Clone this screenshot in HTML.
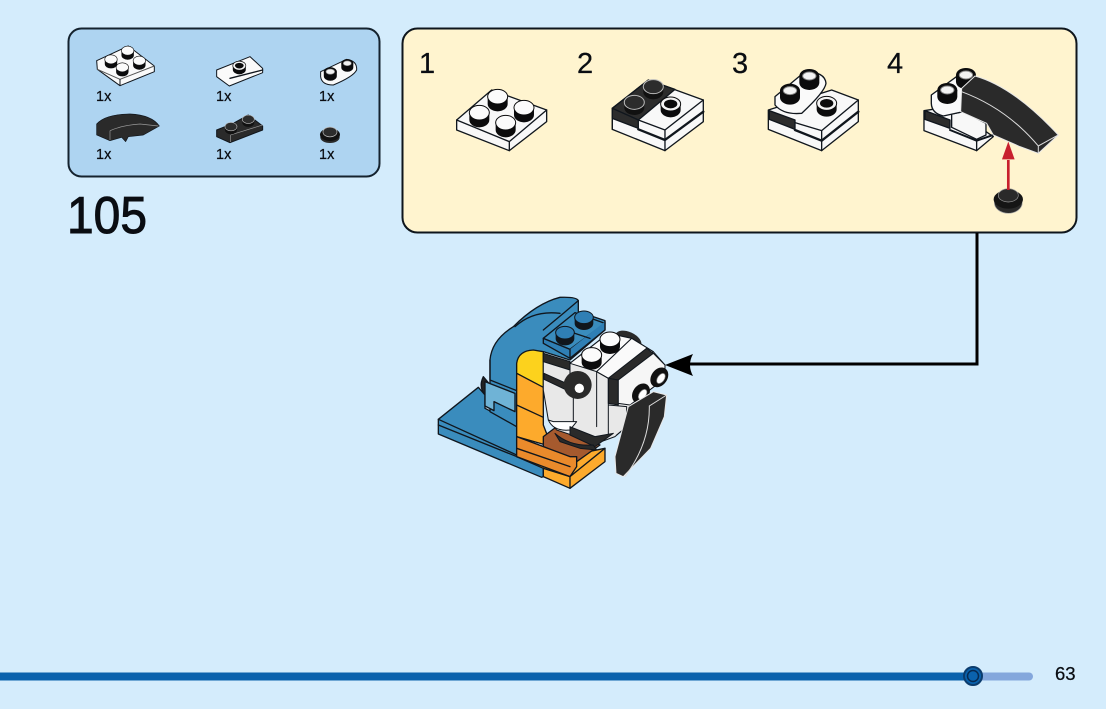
<!DOCTYPE html>
<html><head><meta charset="utf-8"><style>
html,body{margin:0;padding:0;background:#d4ecfc}
svg{display:block}
text{font-family:"Liberation Sans",sans-serif;fill:#0a0d12;stroke:#0a0d12;stroke-width:.25px}
.o{stroke:#10161d;stroke-linejoin:round;stroke-linecap:round}
</style></head><body>
<svg width="1106" height="709" viewBox="0 0 1106 709" xmlns="http://www.w3.org/2000/svg">
<defs>
<g id="st"><path d="M-30 0V22A30 22 0 0 0 30 22V0Z" fill="#0b0b0c"/><ellipse rx="30" ry="22" fill="#fbfbfb" stroke="#0b0b0c" stroke-width="3"/></g>
<g id="sh"><path d="M-30 0V18A30 22 0 0 0 30 18V0Z" fill="#0b0b0c"/><ellipse rx="30" ry="21" fill="#f4f4f4" stroke="#0b0b0c" stroke-width="3"/><ellipse rx="20" ry="13" fill="#0b0b0c"/></g>
<g id="sr"><path d="M-30 0V20A30 22 0 0 0 30 20V0Z" fill="#0b0b0c"/><ellipse rx="30" ry="21" fill="#0b0b0c"/><ellipse rx="20" ry="12" fill="#f2f2f2" stroke="#888" stroke-width="3"/></g>
<g id="sd"><path d="M-30 0V16A30 22 0 0 0 30 16V0Z" fill="#111"/><ellipse rx="30" ry="21" fill="#2c2c2c" stroke="#bbb" stroke-width="3"/></g>
<g id="sb"><path d="M-28 0V18A28 20 0 0 0 28 18V0Z" fill="#10161d"/><ellipse rx="28" ry="19" fill="#2f7fb5" stroke="#10161d" stroke-width="3"/></g>
</defs>
<rect width="1106" height="709" fill="#d4ecfc"/>

<!-- parts panel -->
<rect x="68.500" y="28.500" width="311" height="148" rx="13" fill="#aed4f1" stroke="#14222e" stroke-width="2"/>
<g transform="translate(60,20) scale(.3333)">
  <g class="o" stroke-width="3">
    <path d="M110 122L205 78L283 138V155L180 197L112 148Z" fill="#fafafa"/>
    <path d="M112 148L180 178L283 138" fill="none" stroke="#555"/>
    <path d="M180 178V197" fill="none"/>
    <path d="M470 150L570 110L608 145V158L508 198L470 170Z" fill="#fafafa"/>
    <path d="M510 175L608 150" fill="none" stroke-width="4"/>
    <path d="M782 155L860 118Q892 122 890 150Q880 170 820 195Q785 195 782 170Z" fill="#fafafa"/>
    <path d="M110 312Q135 283 210 282Q275 285 298 318L250 345L205 350L197 365L185 352L150 362L110 345Z" fill="#2a2a2a" stroke-width="2"/>
    <path d="M470 330L520 310L565 285L608 318V330L510 368L470 350Z" fill="#2a2a2a"/>
  </g>
  <path d="M150 332Q190 315 240 312L295 318M150 332V360" fill="none" stroke="#999" stroke-width="2"/>
  <path d="M512 345L608 315M512 345V366" fill="none" stroke="#999" stroke-width="2"/>
  <g transform="translate(153,118) scale(.62)"><use href="#st"/></g>
  <g transform="translate(203,92) scale(.62)"><use href="#st"/></g>
  <g transform="translate(238,122) scale(.62)"><use href="#st"/></g>
  <g transform="translate(187,142) scale(.62)"><use href="#st"/></g>
  <g transform="translate(538,137) scale(.65)"><use href="#sh"/></g>
  <g transform="translate(811,155) scale(.65)"><use href="#sr"/></g>
  <g transform="translate(862,130) scale(.6)"><use href="#sr"/></g>
  <g transform="translate(513,320) scale(.6)"><use href="#sd"/></g>
  <g transform="translate(565,298) scale(.6)"><use href="#sd"/></g>
  <ellipse cx="810" cy="352" rx="29" ry="17" fill="#2a2a2a"/>
  <ellipse cx="810" cy="344" rx="30" ry="19" fill="#111"/>
  <g transform="translate(810,336) scale(.7)"><use href="#sd"/></g>
</g>
<g font-size="14.500">
<text x="96" y="101">1x</text><text x="216" y="101">1x</text><text x="319" y="101">1x</text>
<text x="96" y="159">1x</text><text x="216" y="159">1x</text><text x="319" y="159">1x</text>
</g>
<text x="67" y="233" font-size="52" textLength="80" lengthAdjust="spacingAndGlyphs" style="stroke-width:1px">105</text>

<!-- steps panel -->
<rect x="402.500" y="28.500" width="674" height="204" rx="15" fill="#fff4cf" stroke="#0e151c" stroke-width="2"/>
<g font-size="29" style="stroke-width:.6px">
<text x="419" y="73">1</text><text x="577" y="73">2</text><text x="732" y="73">3</text><text x="887" y="73">4</text>
</g>

<!-- steps 1 & 2 -->
<g transform="translate(410,40) scale(.3333)">
  <g class="o" stroke-width="4">
    <path d="M140 240L245 150L410 210V245L298 332L140 270Z" fill="#f8f8f8"/>
    <path d="M140 240L298 305L410 210M298 305V332" fill="none"/>
  </g>
  <use href="#st" x="208" y="218"/><use href="#st" x="263" y="170"/><use href="#st" x="342" y="203"/><use href="#st" x="287" y="248"/>
  <g class="o" stroke-width="4">
    <path d="M607 205L715 120L880 180V245L765 332L607 268Z" fill="#f8f8f8"/>
    <path d="M607 205L715 120L795 148L685 240Z" fill="#2c2c2c"/>
    <path d="M607 205L685 240V265L607 235Z" fill="#2c2c2c"/>
    <path d="M685 240L765 270L880 180M765 270V332M607 240V268" fill="none"/>
    <path d="M685 268L765 300L880 215" fill="none" stroke-width="7"/>
  </g>
  <use href="#sd" x="673" y="187"/><use href="#sd" x="730" y="140"/><use href="#sh" x="782" y="192"/>
</g>

<!-- steps 3 & 4 -->
<g transform="translate(730,40) scale(.3333)">
  <g class="o" stroke-width="4">
    <path d="M115 210L305 150L385 180V245L275 332L115 268Z" fill="#f8f8f8"/>
    <path d="M195 248L275 272L385 180M275 272V332" fill="none"/>
    <path d="M118 212L195 240V268L118 238Z" fill="#2c2c2c"/>
    <path d="M195 270L275 302L385 215" fill="none" stroke-width="7"/>
    <path d="M135 170L225 95Q285 95 288 130Q285 155 215 220Q160 225 135 195Z" fill="#fafafa"/>
  </g>
  <use href="#sr" x="180" y="152"/><use href="#sr" x="238" y="108"/><use href="#sh" x="290" y="190"/>

  <g class="o" stroke-width="4">
    <path d="M582 212L660 200L790 290L740 332L582 272Z" fill="#f8f8f8"/>
    <path d="M585 212L660 240V265L585 238Z" fill="#2c2c2c"/>
    <path d="M660 270L740 302L790 285" fill="none" stroke-width="6"/>
    <path d="M740 300V332" fill="none"/>
    <path d="M665 222L700 215L768 250V285L740 298L665 262Z" fill="#f8f8f8"/>
    <path d="M604 165L700 95L740 115L700 215L640 228Q605 220 604 190Z" fill="#fafafa"/>
  </g>
  <use href="#sr" x="652" y="150"/><use href="#sr" x="708" y="105"/>
  <path d="M695 145L735 108Q850 140 985 285L925 340L870 320L790 285L770 250L692 215Z" fill="#2a2a2a" stroke="#e8e8e8" stroke-width="3" stroke-linejoin="round"/>
  <path d="M695 155Q830 205 925 318L985 285M925 318V340" fill="none" stroke="#ddd" stroke-width="3"/>
  <ellipse cx="835" cy="488" rx="42" ry="32" fill="#2a2a2a" stroke="#aaa" stroke-width="2"/>
  <ellipse cx="835" cy="478" rx="44" ry="28" fill="#151515"/>
  <ellipse cx="835" cy="466" rx="30" ry="20" fill="#2a2a2a" stroke="#999" stroke-width="2"/>
  <path d="M835 450V360" stroke="#c8202e" stroke-width="8"/>
  <path d="M835 305L854 358H816Z" fill="#c8202e"/>
</g>

<!-- connector -->
<path d="M977 233V364H682" fill="none" stroke="#000" stroke-width="3"/>
<path d="M665 365L693 354Q687 365 693 376Z" fill="#000"/>

<!-- main model -->
<g transform="translate(420,280) scale(.3333)">
  <g class="o" stroke-width="4">
    <path d="M190 290Q175 320 195 345L215 320Z" fill="#222"/>
    <path d="M55 418L175 322L195 345V385L290 435V530L370 560V590L365 592L55 462Z" fill="#3a8cbd"/>
    <path d="M55 435L365 560" fill="none" stroke-width="4"/>
    <path d="M55 418L290 525" fill="none"/>
    <path d="M210 240Q215 180 280 140Q350 70 420 52Q470 50 475 62V95L555 122V150L450 240L370 215L290 250V440L210 395Z" fill="#3a8cbd"/>
    <path d="M210 240V300L290 332" fill="none"/>
    <path d="M285 140Q340 90 420 100M430 100L475 62M370 150L430 100" fill="none"/>
    <path d="M195 305L285 340V395L222 365V392L195 378Z" fill="#6fb3d6"/>
    <path d="M370 175L465 98L555 130L450 208Z" fill="#3a8cbd"/>
    <path d="M370 175V190L450 235V208ZM450 208V235L555 150V125" fill="#2f7fb5"/>
    <path d="M420 145L510 175" fill="none"/>
    <path d="M290 280V250Q295 212 340 210L370 215V325Z" fill="#fcd21d"/>
    <path d="M290 280L370 322V435L395 500L290 470Z" fill="#fdaa2c"/>
    <path d="M290 375L370 412" fill="none"/>
    <path d="M290 470L370 500L450 545L480 520L555 505V545L450 625L370 590V565L290 530Z" fill="#fdaa2c"/>
    <path d="M370 470L410 440L540 495L470 545L370 500Z" fill="#a65a2e"/>
    <path d="M290 470L450 530L470 530V560L450 590L290 530Z" fill="#ea8a2b"/>
    <path d="M290 505L450 560" fill="none"/>
    <path d="M450 590L555 505M450 590V625M370 565L450 590" fill="none"/>
  </g>
  <use href="#sb" x="435" y="158"/><use href="#sb" x="492" y="112"/>
  <!-- head -->
  <ellipse cx="625" cy="180" rx="42" ry="24" fill="#2a2a2a" transform="rotate(25 625 180)"/>
  <g class="o" stroke-width="3">
    <path d="M370 220L450 250L565 160L635 175L700 215L735 255V295L630 375L620 440L585 470L530 490L410 450L385 420L370 330Z" fill="#e8e8e8"/>
    <path d="M450 250L565 160L635 175L530 275Z" fill="#fafafa"/>
    <path d="M530 275L635 175L700 215L565 295Z" fill="#fafafa"/>
    <path d="M370 220L450 245V270L370 245Z" fill="#2a2a2a"/>
    <path d="M372 280L450 315V335L372 298Z" fill="#2a2a2a"/>
    <path d="M565 295L680 205L702 222L595 300Z" fill="#2a2a2a"/>
    <path d="M565 295L595 300V375L565 370Z" fill="#2a2a2a"/>
    <path d="M595 300L700 220L735 255V295L630 375L595 370Z" fill="#f6f6f6"/>
    <path d="M450 250V320M530 275V440M565 295V470M460 345V430M565 375L620 380V440L590 465M530 275L565 295" fill="none"/>
    <path d="M385 420Q400 455 450 450L470 425L400 425Z" fill="#fff"/>
    <path d="M450 440L525 470L580 460L525 500L450 465Z" fill="#2a2a2a"/>
    <path d="M405 460Q450 500 520 495L530 510L480 505L420 485Z" fill="#2a2a2a"/>
  </g>
  <ellipse cx="473" cy="315" rx="42" ry="42" fill="#2a2a2a"/>
  <circle cx="478" cy="325" r="14" fill="#fff"/>
  <use href="#st" x="515" y="225"/>
  <use href="#st" x="570" y="178"/>
  <g transform="translate(663,340) rotate(35)"><ellipse rx="24" ry="32" fill="#111"/><ellipse cx="6" cy="0" rx="10" ry="17" fill="#fff" stroke="#888" stroke-width="2"/></g>
  <g transform="translate(718,292) rotate(35)"><ellipse rx="24" ry="32" fill="#111"/><ellipse cx="6" cy="0" rx="10" ry="17" fill="#fff" stroke="#888" stroke-width="2"/></g>
  <path d="M588 580L585 530L625 380L700 335L740 345L733 410L692 505L610 590Z" fill="#2a2a2a" stroke="#e8e8e8" stroke-width="3" stroke-linejoin="round"/>
  <path d="M615 590Q690 490 688 378L740 345" fill="none" stroke="#ddd" stroke-width="3"/>
</g>

<!-- footer bar -->
<rect x="960" y="672.500" width="73" height="8" rx="4" fill="#84a7dc"/>
<rect x="0" y="672.500" width="975" height="8" fill="#0a62ad"/>
<circle cx="973" cy="676" r="9" fill="#0a62ad" stroke="#0b3c6d" stroke-width="2"/>
<circle cx="973" cy="676" r="5.500" fill="#0a62ad" stroke="#062a52" stroke-width="1.500"/>
<text x="1055" y="680" font-size="18.500">63</text>
</svg>
</body></html>
